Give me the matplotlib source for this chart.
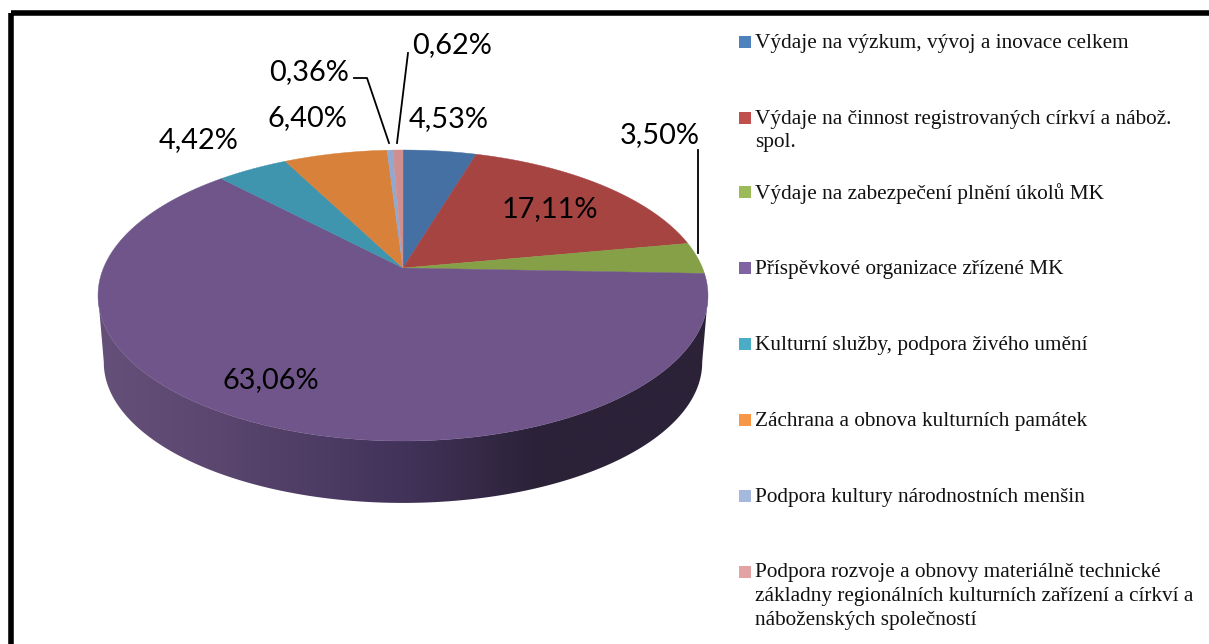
import numpy as np
import matplotlib
matplotlib.use("Agg")
import matplotlib.pyplot as plt
from matplotlib.colors import LinearSegmentedColormap
from matplotlib.patches import Polygon, Rectangle

categories = [
    "Výdaje na výzkum, vývoj a inovace celkem",
    "Výdaje na činnost registrovaných církví a nábož.\nspol.",
    "Výdaje na zabezpečení plnění úkolů MK",
    "Příspěvkové organizace zřízené MK",
    "Kulturní služby, podpora živého umění",
    "Záchrana a obnova kulturních památek",
    "Podpora kultury národnostních menšin",
    "Podpora rozvoje a obnovy materiálně technické\nzákladny regionálních kulturních zařízení a církví a\nnáboženských společností",
]
values = [4.53, 17.11, 3.50, 63.06, 4.42, 6.40, 0.36, 0.62]
labels = ["4,53%", "17,11%", "3,50%", "63,06%", "4,42%", "6,40%", "0,36%", "0,62%"]

top_colors = ["#4570a3", "#a64442", "#85a046", "#6f558a", "#3f94ae", "#d7813b", "#91a8d0", "#cf8f8e"]
key_colors = ["#4f81bd", "#c0504d", "#9bbb59", "#8064a2", "#4bacc6", "#f79646", "#a5b8dd", "#e3a3a2"]

# placement, in picture pixels
label_xy = [(449, 119), (550, 209), (660, 135), (271, 380), (199, 140), (307, 118), (309, 72), (452, 45)]
key_y = [42, 118, 192, 268, 344, 420, 496, 572]
leaders = [[(354, 78), (367, 78), (389, 143)], [(408, 53), (397, 143)], [(698, 150), (698, 253)]]


def project(theta, cx=403, cy=268, a=299.5, b=140.3, k=0.189):
    # disque vu en perspective : le sommet n'est pas au centre de l'ellipse
    theta = theta + np.radians(1.7) * np.sin(theta)
    x, y = np.sin(theta), np.cos(theta)
    w = 1 + k * y
    return cx + a * x / w, cy - b * y / w


fig = plt.figure(figsize=(12.09, 6.44), dpi=100)
ax = fig.add_axes([0, 0, 1, 1])
ax.set_xlim(0, 1209)
ax.set_ylim(644, 0)
ax.axis("off")

# cadre
ax.add_patch(Rectangle((11, 13), 1300, 700, fill=False, ec="black", lw=4))

# flanc du disque
t = np.linspace(0, 2 * np.pi, 721)
ex, ey = project(t)
left, right = ex.argmin(), ex.argmax()
order = np.arange(right, left + 1)
bx = 403 + (ex[order] - 403) * 0.981
by = 363 + (ey[order] - 296) * 0.965
side = np.column_stack([np.r_[ex[order], bx[::-1]], np.r_[ey[order], by[::-1]]])
clip = Polygon(side, closed=True, transform=ax.transData, fc="none", ec="none")
ax.add_patch(clip)
cmap = LinearSegmentedColormap.from_list(
    "side", [(0, "#655079"), (0.2, "#5a466e"), (0.5, "#42335a"), (0.72, "#2b2238"), (1, "#2b2238")])
im = ax.imshow(np.linspace(0, 1, 256)[None, :], extent=(98, 708, 510, 270), cmap=cmap,
               aspect="auto", zorder=1)
im.set_clip_path(clip)
ax.set_xlim(0, 1209)
ax.set_ylim(644, 0)

# dessus
ends = np.cumsum(values) / np.sum(values) * 2 * np.pi
starts = np.r_[0, ends[:-1]]
for s, e, c in zip(starts, ends, top_colors):
    px, py = project(np.linspace(s, e, 200))
    ax.fill(np.r_[403, px], np.r_[268, py], color=c, lw=0.3, zorder=2)

for lab, (x, y) in zip(labels, label_xy):
    ax.text(x, y, lab, family="Lato", fontsize=20.8, ha="center", va="center", color="black", zorder=4)
for pts in leaders:
    xs, ys = zip(*pts)
    ax.plot(xs, ys, color="black", lw=1.3, zorder=3)

for name, col, y in zip(categories, key_colors, key_y):
    ax.add_patch(Rectangle((739, y - 6), 12, 12, color=col, lw=0))
    ax.text(755, y - 8.5, name, family="Liberation Serif", fontsize=15.3, va="top",
            linespacing=1.33, color="#111111")

fig.savefig("out.png", dpi=100)
